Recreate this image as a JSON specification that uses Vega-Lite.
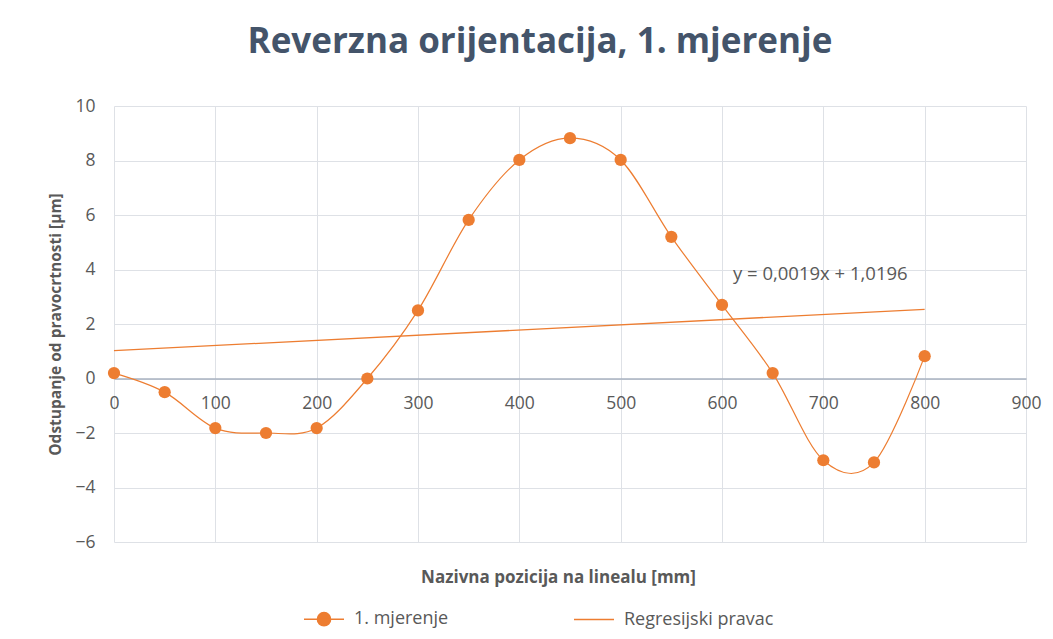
{
  "$schema": "https://vega.github.io/schema/vega-lite/v6.json",
  "width": 912,
  "height": 436,
  "autosize": "none",
  "padding": {"left": 114, "top": 106, "right": 27, "bottom": 97},
  "background": "white",
  "config": {
    "font": "Open Sans",
    "view": {"stroke": null},
    "axis": {"labelFont": "Open Sans", "titleFont": "Open Sans"}
  },
  "title": {
    "text": "Reverzna orijentacija, 1. mjerenje",
    "font": "Open Sans",
    "fontSize": 35,
    "fontWeight": "bold",
    "color": "#44546A",
    "offset": 37,
    "dx": -30,
    "anchor": "middle"
  },
  "datasets": {
    "meas": [
      {"x": 0, "y": 0.2, "series": "1. mjerenje"},
      {"x": 50, "y": -0.5, "series": "1. mjerenje"},
      {"x": 100, "y": -1.82, "series": "1. mjerenje"},
      {"x": 150, "y": -2.0, "series": "1. mjerenje"},
      {"x": 200, "y": -1.82, "series": "1. mjerenje"},
      {"x": 250, "y": 0.0, "series": "1. mjerenje"},
      {"x": 300, "y": 2.5, "series": "1. mjerenje"},
      {"x": 350, "y": 5.82, "series": "1. mjerenje"},
      {"x": 400, "y": 8.02, "series": "1. mjerenje"},
      {"x": 450, "y": 8.82, "series": "1. mjerenje"},
      {"x": 500, "y": 8.02, "series": "1. mjerenje"},
      {"x": 550, "y": 5.2, "series": "1. mjerenje"},
      {"x": 600, "y": 2.7, "series": "1. mjerenje"},
      {"x": 650, "y": 0.2, "series": "1. mjerenje"},
      {"x": 700, "y": -3.0, "series": "1. mjerenje"},
      {"x": 750, "y": -3.08, "series": "1. mjerenje"},
      {"x": 800, "y": 0.82, "series": "1. mjerenje"}
    ],
    "reg": [
      {"x": 0, "y": 1.0196, "series": "Regresijski pravac"},
      {"x": 800, "y": 2.5396, "series": "Regresijski pravac"}
    ],
    "lbl": [
      {"x": 697, "y": 3.85, "label": "y = 0,0019x + 1,0196"}
    ]
  },
  "encoding": {
    "x": {
      "field": "x",
      "type": "quantitative",
      "scale": {"domain": [0, 900], "nice": false, "zero": false},
      "axis": {
        "values": [0, 100, 200, 300, 400, 500, 600, 700, 800, 900],
        "title": "Nazivna pozicija na linealu [mm]",
        "offset": -163.5,
        "domainColor": "#A9B2C0",
        "domainWidth": 1.3,
        "ticks": false,
        "labelFlush": false,
        "labelPadding": 16,
        "labelFontSize": 17.5,
        "labelColor": "#595959",
        "grid": true,
        "gridColor": "#DEE1E6",
        "titleFontSize": 17,
        "titleFontWeight": "bold",
        "titleColor": "#595959",
        "titleBaseline": "top",
        "titleY": 191,
        "titleX": 444
      }
    },
    "y": {
      "field": "y",
      "type": "quantitative",
      "scale": {"domain": [-6, 10], "nice": false, "zero": false},
      "axis": {
        "values": [-6, -4, -2, 0, 2, 4, 6, 8, 10],
        "title": "Odstupanje od pravocrtnosti [µm]",
        "domain": false,
        "ticks": false,
        "labelPadding": 19,
        "labelFontSize": 17.5,
        "labelColor": "#595959",
        "grid": true,
        "gridColor": "#DEE1E6",
        "titleFontSize": 15.5,
        "titleFontWeight": "bold",
        "titleColor": "#595959",
        "titlePadding": 11
      }
    }
  },
  "layer": [
    {
      "data": {"name": "reg"},
      "mark": {"type": "line", "strokeWidth": 1.3},
      "encoding": {
        "color": {
          "field": "series",
          "type": "nominal",
          "scale": {"domain": ["1. mjerenje", "Regresijski pravac"], "range": ["#ED7D31", "#ED7D31"]},
          "legend": {
            "orient": "none",
            "legendX": 189,
            "legendY": 492,
            "direction": "horizontal",
            "title": null,
            "labelFontSize": 18,
            "labelColor": "#595959",
            "labelFont": "Open Sans",
            "symbolSize": 1600,
            "symbolStrokeWidth": 1.5,
            "columnPadding": 122,
            "labelOffset": 9,
            "encode": {
              "symbols": {
                "update": {
                  "shape": {"signal": "datum.value === '1. mjerenje' ? 'M-1,0L1,0M0.33,0A0.33,0.33,0,1,1,-0.33,0A0.33,0.33,0,1,1,0.33,0' : 'M-1,0L1,0'"},
                  "fill": {"signal": "datum.value === '1. mjerenje' ? '#ED7D31' : 'transparent'"},
                  "stroke": {"value": "#ED7D31"}
                }
              }
            }
          }
        }
      }
    },
    {
      "data": {"name": "meas"},
      "mark": {"type": "line", "interpolate": "cardinal", "strokeWidth": 1.2},
      "encoding": {
        "color": {"field": "series", "type": "nominal"}
      }
    },
    {
      "data": {"name": "meas"},
      "mark": {"type": "circle", "size": 150, "opacity": 1, "color": "#ED7D31"},
      "encoding": {}
    },
    {
      "data": {"name": "lbl"},
      "mark": {"type": "text", "fontSize": 18.5, "color": "#595959", "font": "Open Sans", "align": "center", "baseline": "middle"},
      "encoding": {"text": {"field": "label"}}
    }
  ]
}
